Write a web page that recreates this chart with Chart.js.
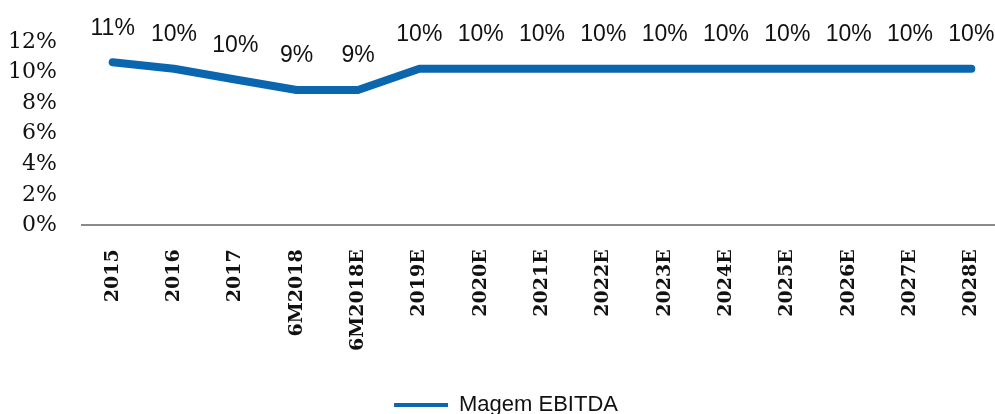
<!DOCTYPE html>
<html>
<head>
<meta charset="utf-8">
<script src="https://cdn.jsdelivr.net/npm/chart.js@4.4.0/dist/chart.umd.min.js"></script>
<style>
  html, body { margin: 0; padding: 0; overflow: hidden; background: #fff; }
  #wrap { position: absolute; left: 0; top: 0; width: 1002px; height: 426px; }
</style>
</head>
<body>
<div id="wrap"><canvas id="marginChart"></canvas></div>
<script>
const labels = ['2015', '2016', '2017', '6M2018', '6M2018E', '2019E', '2020E', '2021E',
  '2022E', '2023E', '2024E', '2025E', '2026E', '2027E', '2028E'];
const margem = [10.68, 10.25, 9.55, 8.86, 8.86, 10.25, 10.25, 10.25, 10.25, 10.25, 10.25, 10.25, 10.25, 10.25, 10.25];
const yTicks = [0, 2, 4, 6, 8, 10, 12];

const blue = '#0b66b0';

// labels above each point
const pointLabels = {
  id: 'pointLabels',
  afterDatasetsDraw(chart) {
    const c = chart.ctx;
    const meta = chart.getDatasetMeta(0);
    c.save();
    c.font = '23px "Liberation Sans", Arial, sans-serif';
    c.fillStyle = '#111';
    c.textAlign = 'center';
    c.textBaseline = 'middle';
    meta.data.forEach((pt, i) => {
      c.fillText(Math.round(margem[i]) + '%', pt.x, pt.y - 34);
    });
    c.restore();
  }
};

new Chart(document.getElementById('marginChart'), {
  type: 'line',
  data: {
    labels: labels,
    datasets: [{
      label: 'Magem EBITDA',
      data: margem,
      borderColor: blue,
      backgroundColor: blue,
      borderWidth: 8,
      borderCapStyle: 'round',
      borderJoinStyle: 'round',
      pointRadius: 0,
      tension: 0
    }]
  },
  options: {
    responsive: true,
    maintainAspectRatio: false,
    animation: false,
    layout: { padding: { top: 42, left: 10, right: 0, bottom: 0 } },
    scales: {
      x: {
        offset: true,
        grid: { display: false, drawTicks: false },
        border: { display: true, color: '#8a8a8a', width: 2 },
        afterFit: axis => { axis.paddingLeft = 0; axis.paddingRight = 0; },
        ticks: {
          color: '#111',
          maxRotation: 90,
          minRotation: 90,
          padding: 24,
          font: { family: '"DejaVu Serif", serif', size: 19, weight: 'bold' }
        }
      },
      y: {
        min: 0,
        max: 12,
        grid: { display: false, drawTicks: false },
        border: { display: false },
        afterBuildTicks: axis => { axis.ticks = yTicks.map(v => ({ value: v })); },
        afterFit: axis => { axis.width = 72; },
        ticks: {
          color: '#111',
          padding: 25,
          font: { family: '"DejaVu Serif", serif', size: 22 },
          callback: v => v + '%'
        }
      }
    },
    plugins: {
      tooltip: { enabled: false },
      legend: {
        position: 'bottom',
        labels: {
          color: '#111',
          boxWidth: 54,
          boxHeight: 4,
          padding: 19,
          font: { family: '"Liberation Sans", Arial, sans-serif', size: 22 },
          generateLabels: chart => {
            const items = Chart.defaults.plugins.legend.labels.generateLabels(chart);
            items.forEach(it => { it.lineWidth = 0; it.fillStyle = blue; });
            return items;
          }
        }
      }
    }
  },
  plugins: [pointLabels]
});
</script>
</body>
</html>
